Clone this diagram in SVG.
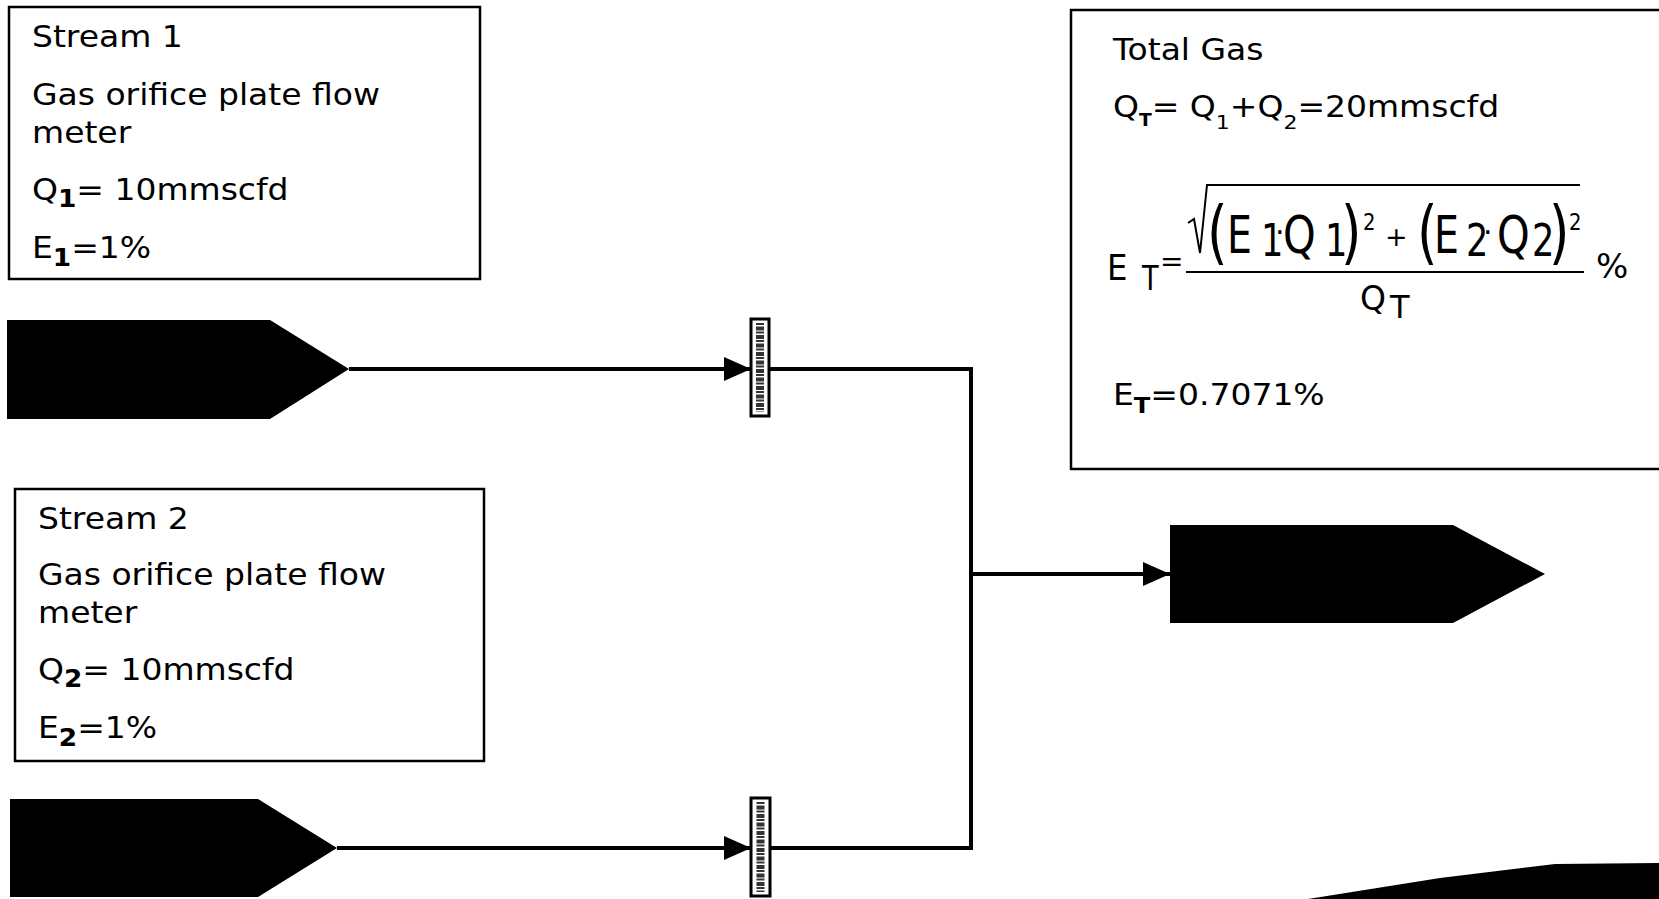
<svg xmlns="http://www.w3.org/2000/svg" width="1659" height="899" viewBox="0 0 1659 899">
<style>
.box{fill:#fff;stroke:#000;stroke-width:2.5}
.t{font-family:"DejaVu Sans",Verdana,sans-serif;font-size:30px;fill:#000}
.sb{font-weight:bold}
.f{font-family:"DejaVu Sans",Verdana,sans-serif;fill:#000}
.shape{fill:#000}
.valve{fill:#fff;stroke:#000;stroke-width:3}
.tex{stroke:#333;stroke-width:8;stroke-dasharray:2 1.5 4 1}
.conn{fill:none;stroke:#000;stroke-width:4;stroke-linejoin:miter}
.rule{fill:none;stroke:#000;stroke-width:2}
</style>
<defs>
<marker id="ah" markerUnits="userSpaceOnUse" markerWidth="28" markerHeight="26" refX="27" refY="12" orient="auto">
<path d="M0,0 L27,12 L0,24 Z" fill="#000"/>
</marker>
</defs>
<rect width="1659" height="899" fill="#fff"/>

<g id="stream1">
<rect class="box" x="9" y="7" width="471" height="272"/>
<text class="t" transform="translate(32,47) scale(1.1,1)">Stream 1</text>
<text class="t" transform="translate(32,105) scale(1.1,1)">Gas orifice plate flow</text>
<text class="t" transform="translate(32,143) scale(1.1,1)">meter</text>
<text class="t" transform="translate(32,200) scale(1.1,1)">Q<tspan class="sb" font-size="24" dy="7">1</tspan><tspan dy="-7">= 10mmscfd</tspan></text>
<text class="t" transform="translate(32,258) scale(1.1,1)">E<tspan class="sb" font-size="24" dy="8">1</tspan><tspan dy="-8">=1%</tspan></text>
</g>

<g id="stream2">
<rect class="box" x="15" y="489" width="469" height="272"/>
<text class="t" transform="translate(38,529) scale(1.1,1)">Stream 2</text>
<text class="t" transform="translate(38,585) scale(1.1,1)">Gas orifice plate flow</text>
<text class="t" transform="translate(38,623) scale(1.1,1)">meter</text>
<text class="t" transform="translate(38,680) scale(1.1,1)">Q<tspan class="sb" font-size="24" dy="7">2</tspan><tspan dy="-7">= 10mmscfd</tspan></text>
<text class="t" transform="translate(38,738) scale(1.1,1)">E<tspan class="sb" font-size="24" dy="8">2</tspan><tspan dy="-8">=1%</tspan></text>
</g>

<g id="total">
<rect class="box" x="1071" y="10" width="600" height="459"/>
<text class="t" transform="translate(1113,60) scale(1.1,1)">Total Gas</text>
<text class="t" transform="translate(1113,117) scale(1.1,1)">Q<tspan class="sb" font-size="17" dy="9">T</tspan><tspan dy="-9">= Q</tspan><tspan font-size="20" dy="12">1</tspan><tspan dy="-12">+Q</tspan><tspan font-size="20" dy="12">2</tspan><tspan dy="-12">=20mmscfd</tspan></text>
<text class="t" transform="translate(1113,405) scale(1.1,1)">E<tspan class="sb" font-size="22" dy="8">T</tspan><tspan dy="-8">=0.7071%</tspan></text>
<!-- formula -->
<text class="f" font-size="36" transform="translate(1107,280) scale(0.9,1)">E</text>
<text class="f" font-size="34" transform="translate(1142,290) scale(0.8,1)">T</text>
<text class="f" font-size="28" x="1160" y="271">=</text>
<path class="rule" d="M1186,272 H1584"/>
<path class="rule" d="M1188,223 L1194,219 L1200,253 L1207,185 H1580" stroke-width="2.5"/>
<text class="f" font-size="70" transform="translate(1207,256) scale(0.75,1)">(</text>
<text class="f" font-size="52" transform="translate(1227,253) scale(0.76,1)">E</text>
<text class="f" font-size="44" transform="translate(1261,256) scale(0.8,1)">1</text>
<text class="f" font-size="30" x="1275" y="243">·</text>
<text class="f" font-size="52" transform="translate(1283,253) scale(0.8,1)">Q</text>
<text class="f" font-size="44" transform="translate(1325,256) scale(0.8,1)">1</text>
<text class="f" font-size="70" transform="translate(1341,256) scale(0.75,1)">)</text>
<text class="f" font-size="23" transform="translate(1363,230) scale(0.85,1)">2</text>
<text class="f" font-size="27" x="1385" y="246">+</text>
<text class="f" font-size="70" transform="translate(1417,256) scale(0.75,1)">(</text>
<text class="f" font-size="52" transform="translate(1434,253) scale(0.76,1)">E</text>
<text class="f" font-size="44" transform="translate(1466,256) scale(0.8,1)">2</text>
<text class="f" font-size="30" x="1483" y="243">·</text>
<text class="f" font-size="52" transform="translate(1497,253) scale(0.8,1)">Q</text>
<text class="f" font-size="44" transform="translate(1532,256) scale(0.8,1)">2</text>
<text class="f" font-size="70" transform="translate(1549,256) scale(0.75,1)">)</text>
<text class="f" font-size="23" transform="translate(1569,230) scale(0.85,1)">2</text>
<text class="f" font-size="34" x="1596" y="278">%</text>
<text class="f" font-size="33" x="1360" y="310">Q</text>
<text class="f" font-size="32" x="1390" y="318">T</text>
</g>

<g id="inlet1"><polygon class="shape" points="7,320 270,320 349,369 270,419 7,419"/></g>
<g id="inlet2"><polygon class="shape" points="10,799 258,799 337,848 258,897 10,897"/></g>
<g id="outlet"><polygon class="shape" points="1170,525 1453,525 1545,574 1453,623 1170,623"/></g>
<g id="corner"><polygon class="shape" points="1308,899 1440,878 1555,864 1659,863 1659,899"/></g>

<g id="meter1"><rect class="valve" x="751" y="319" width="18" height="97"/><path class="tex" d="M760,323 V412"/></g>
<g id="meter2"><rect class="valve" x="751" y="798" width="19" height="98"/><path class="tex" d="M760.5,802 V892"/></g>

<g id="connectors">
<path class="conn" d="M349,369 H751" marker-end="url(#ah)"/>
<path class="conn" d="M337,848 H751" marker-end="url(#ah)"/>
<path class="conn" d="M769,369 H971 V848 H770"/>
<path class="conn" d="M971,574 H1170" marker-end="url(#ah)"/>
</g>
</svg>
